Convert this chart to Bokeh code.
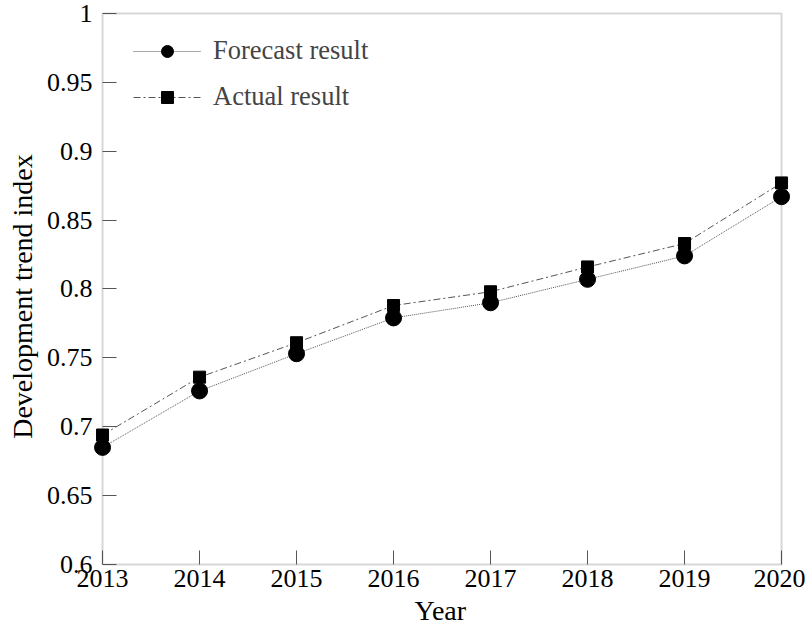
from bokeh.plotting import figure
from bokeh.models import Range1d, FixedTicker, Legend, LegendItem, BoxAnnotation, Title
from bokeh.embed import file_html
from bokeh.resources import INLINE

years = [2013, 2014, 2015, 2016, 2017, 2018, 2019, 2020]
forecast = [0.685, 0.726, 0.753, 0.779, 0.790, 0.807, 0.824, 0.867]
actual = [0.694, 0.736, 0.761, 0.788, 0.798, 0.816, 0.833, 0.877]
y_ticks = [0.6, 0.65, 0.7, 0.75, 0.8, 0.85, 0.9, 0.95, 1.0]
y_tick_labels = ["0.6", "0.65", "0.7", "0.75", "0.8", "0.85", "0.9", "0.95", "1"]
y_min, y_max = 0.6, 1.0

FONT = "Liberation Serif"

# The frame is widened beyond the data box so that end markers and axis labels
# are not clipped; axes are pinned to the data limits and the box is drawn there.
x_lo = years[0] - 1.052
x_hi = years[-1] + 0.247
y_lo = y_min - 0.0203
y_hi = y_max + 0.0094

p = figure(width=805, height=635, output_backend="svg", toolbar_location=None,
           x_range=Range1d(x_lo, x_hi), y_range=Range1d(y_lo, y_hi),
           min_border_left=0, min_border_right=0, min_border_top=0, min_border_bottom=43)
p.xgrid.visible = False
p.ygrid.visible = False
p.outline_line_color = None

for ax in (p.xaxis[0], p.yaxis[0]):
    ax.axis_line_color = None
    ax.major_tick_line_color = "#555555"
    ax.major_tick_line_width = 1
    ax.major_tick_in = 14
    ax.major_tick_out = 0
    ax.minor_tick_line_color = None
    ax.major_label_text_font = FONT
    ax.major_label_text_font_size = "26px"
    ax.major_label_text_color = "black"
    ax.axis_label_text_font = FONT
    ax.axis_label_text_font_size = "28px"
    ax.axis_label_text_font_style = "normal"
    ax.axis_label_text_color = "black"

p.yaxis.fixed_location = years[0]
p.xaxis.fixed_location = y_min
p.xaxis.ticker = FixedTicker(ticks=years)
p.yaxis.ticker = FixedTicker(ticks=y_ticks)
p.yaxis.major_label_overrides = {t: l for t, l in zip(y_ticks, y_tick_labels)}
p.yaxis.axis_label = "Development trend index"
p.xaxis.major_label_standoff = 5
p.yaxis.major_label_standoff = 10
p.yaxis.axis_label_standoff = 6

xt = Title(text="Year", align="left", offset=414, standoff=0, text_font=FONT,
           text_font_size="28px", text_font_style="normal", text_color="black")
p.add_layout(xt, "below")

box = BoxAnnotation(left=years[0], right=years[-1], bottom=y_min, top=y_max,
                    fill_alpha=0, line_color="#7a7a7a", line_width=2, level="underlay")
p.add_layout(box)

fl = p.line(years, forecast, line_color="#555555", line_width=1, line_dash="1 1")
fm = p.scatter(years, forecast, marker="circle", size=16, fill_color="black", line_color="black")
al = p.line(years, actual, line_color="#555555", line_width=1, line_dash="7 3 2 3")
am = p.scatter(years, actual, marker="square", size=12, fill_color="black", line_color="black")

legend = Legend(items=[LegendItem(label="Forecast result", renderers=[fl, fm]),
                       LegendItem(label="Actual result", renderers=[al, am])],
                location=(133, 480))
legend.border_line_color = None
legend.background_fill_alpha = 0
legend.label_text_font = FONT
legend.label_text_font_size = "26.5px"
legend.glyph_width = 68
legend.glyph_height = 30
legend.label_standoff = 12
legend.spacing = 15
legend.margin = 0
legend.padding = 0
p.add_layout(legend)

open("out.html", "w").write(file_html(p, INLINE))
